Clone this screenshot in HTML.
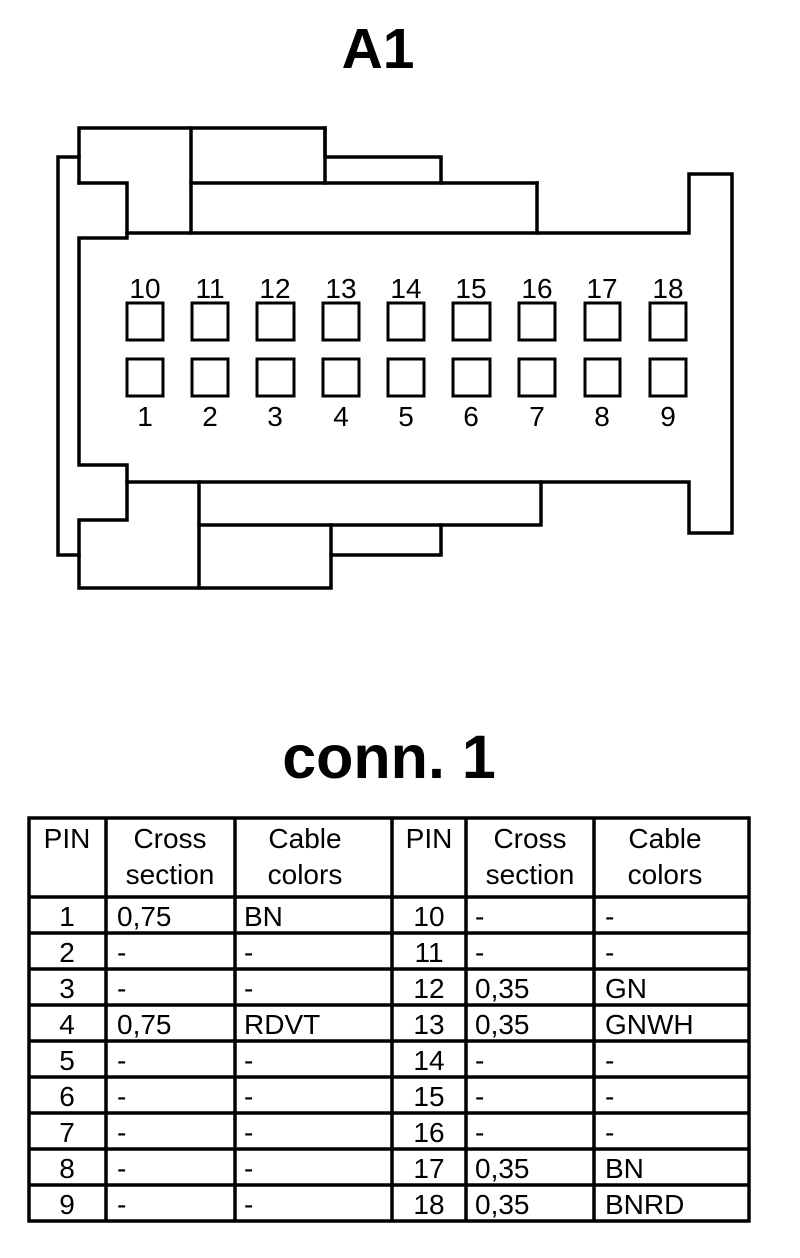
<!DOCTYPE html>
<html><head><meta charset="utf-8"><style>html,body{margin:0;padding:0;background:#fff}svg{display:block}</style></head>
<body>
<svg width="800" height="1258" viewBox="0 0 800 1258" xmlns="http://www.w3.org/2000/svg" font-family="Liberation Sans, Arial, sans-serif">
<rect width="800" height="1258" fill="#fff"/>
<text x="378" y="68" font-size="57" font-weight="bold" text-anchor="middle">A1</text>
<g stroke="#000" stroke-width="3.5" fill="none" stroke-linecap="square">
<polyline points="79,157 58,157 58,555 79,555"/>
<polyline points="79,183 79,128 325,128 325,157 441,157 441,183"/>
<line x1="325" y1="128" x2="325" y2="183"/>
<line x1="191" y1="183" x2="537" y2="183"/>
<line x1="191" y1="128" x2="191" y2="233"/>
<polyline points="537,183 537,233 689,233 689,174 732,174 732,533 689,533 689,482 127,482"/>
<line x1="127" y1="233" x2="537" y2="233"/>
<polyline points="79,183 127,183 127,238 79,238 79,465 127,465 127,520 79,520 79,588 331,588 331,525"/>
<polyline points="541,482 541,525 199,525"/>
<line x1="199" y1="482" x2="199" y2="588"/>
<polyline points="331,555 441,555 441,525"/>
</g>
<g stroke="#000" stroke-width="3" fill="none">
<rect x="127" y="303" width="36" height="37"/><rect x="192" y="303" width="36" height="37"/><rect x="257" y="303" width="37" height="37"/><rect x="323" y="303" width="36" height="37"/><rect x="388" y="303" width="36" height="37"/><rect x="453" y="303" width="37" height="37"/><rect x="519" y="303" width="36" height="37"/><rect x="585" y="303" width="35" height="37"/><rect x="650" y="303" width="36" height="37"/>
<rect x="127" y="359" width="36" height="37"/><rect x="192" y="359" width="36" height="37"/><rect x="257" y="359" width="37" height="37"/><rect x="323" y="359" width="36" height="37"/><rect x="388" y="359" width="36" height="37"/><rect x="453" y="359" width="37" height="37"/><rect x="519" y="359" width="36" height="37"/><rect x="585" y="359" width="35" height="37"/><rect x="650" y="359" width="36" height="37"/>
</g>
<g font-size="28" text-anchor="middle">
<text x="145" y="298">10</text><text x="210" y="298">11</text><text x="275" y="298">12</text><text x="341" y="298">13</text><text x="406" y="298">14</text><text x="471" y="298">15</text><text x="537" y="298">16</text><text x="602" y="298">17</text><text x="668" y="298">18</text>
<text x="145" y="426">1</text><text x="210" y="426">2</text><text x="275" y="426">3</text><text x="341" y="426">4</text><text x="406" y="426">5</text><text x="471" y="426">6</text><text x="537" y="426">7</text><text x="602" y="426">8</text><text x="668" y="426">9</text>
</g>
<text x="389" y="778" font-size="61" font-weight="bold" text-anchor="middle">conn. 1</text>
<g stroke="#000" stroke-width="3.5" fill="none">
<rect x="29" y="818" width="720" height="403"/>
<line x1="106" y1="818" x2="106" y2="1221"/><line x1="235" y1="818" x2="235" y2="1221"/><line x1="392" y1="818" x2="392" y2="1221"/><line x1="466" y1="818" x2="466" y2="1221"/><line x1="594" y1="818" x2="594" y2="1221"/>
<line x1="29" y1="897" x2="749" y2="897"/><line x1="29" y1="933" x2="749" y2="933"/><line x1="29" y1="969" x2="749" y2="969"/><line x1="29" y1="1005" x2="749" y2="1005"/><line x1="29" y1="1041" x2="749" y2="1041"/><line x1="29" y1="1077" x2="749" y2="1077"/><line x1="29" y1="1113" x2="749" y2="1113"/><line x1="29" y1="1149" x2="749" y2="1149"/><line x1="29" y1="1185" x2="749" y2="1185"/>
</g>
<g font-size="28" text-anchor="middle">
<text x="67" y="848">PIN</text><text x="170" y="848">Cross</text><text x="170" y="884">section</text><text x="305" y="848">Cable</text><text x="305" y="884">colors</text>
<text x="429" y="848">PIN</text><text x="530" y="848">Cross</text><text x="530" y="884">section</text><text x="665" y="848">Cable</text><text x="665" y="884">colors</text>
<text x="67" y="926">1</text><text x="67" y="962">2</text><text x="67" y="998">3</text><text x="67" y="1034">4</text><text x="67" y="1070">5</text><text x="67" y="1106">6</text><text x="67" y="1142">7</text><text x="67" y="1178">8</text><text x="67" y="1214">9</text>
<text x="429" y="926">10</text><text x="429" y="962">11</text><text x="429" y="998">12</text><text x="429" y="1034">13</text><text x="429" y="1070">14</text><text x="429" y="1106">15</text><text x="429" y="1142">16</text><text x="429" y="1178">17</text><text x="429" y="1214">18</text>
</g>
<g font-size="28">
<text x="117" y="926">0,75</text><text x="117" y="962">-</text><text x="117" y="998">-</text><text x="117" y="1034">0,75</text><text x="117" y="1070">-</text><text x="117" y="1106">-</text><text x="117" y="1142">-</text><text x="117" y="1178">-</text><text x="117" y="1214">-</text>
<text x="244" y="926">BN</text><text x="244" y="962">-</text><text x="244" y="998">-</text><text x="244" y="1034">RDVT</text><text x="244" y="1070">-</text><text x="244" y="1106">-</text><text x="244" y="1142">-</text><text x="244" y="1178">-</text><text x="244" y="1214">-</text>
<text x="475" y="926">-</text><text x="475" y="962">-</text><text x="475" y="998">0,35</text><text x="475" y="1034">0,35</text><text x="475" y="1070">-</text><text x="475" y="1106">-</text><text x="475" y="1142">-</text><text x="475" y="1178">0,35</text><text x="475" y="1214">0,35</text>
<text x="605" y="926">-</text><text x="605" y="962">-</text><text x="605" y="998">GN</text><text x="605" y="1034">GNWH</text><text x="605" y="1070">-</text><text x="605" y="1106">-</text><text x="605" y="1142">-</text><text x="605" y="1178">BN</text><text x="605" y="1214">BNRD</text>
</g>
</svg>
</body></html>
